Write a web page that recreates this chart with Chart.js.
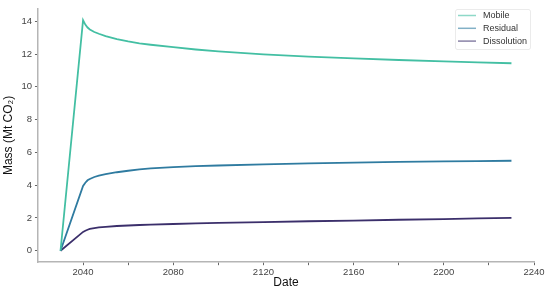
<!DOCTYPE html>
<html>
<head>
<meta charset="utf-8">
<script src="https://cdn.jsdelivr.net/npm/chart.js@4"></script>
<style>
  body { margin: 0; background: #fff; }
  #chart { display: block; }
</style>
</head>
<body>
<canvas id="chart" width="550" height="293"></canvas>
<script>
const years = [2030, 2040, 2041, 2042, 2043, 2045, 2047, 2050, 2055, 2060, 2065, 2070, 2080, 2090, 2100, 2120, 2140, 2160, 2180, 2200, 2215, 2230];
const mobile = [0, 14.07, 13.8, 13.62, 13.5, 13.35, 13.24, 13.1, 12.91, 12.77, 12.66, 12.57, 12.42, 12.28, 12.16, 11.98, 11.85, 11.74, 11.64, 11.55, 11.49, 11.44];
const residual = [0, 3.95, 4.15, 4.3, 4.38, 4.5, 4.58, 4.67, 4.79, 4.88, 4.96, 5.02, 5.1, 5.16, 5.2, 5.27, 5.33, 5.38, 5.42, 5.45, 5.47, 5.49];
const dissolution = [0, 1.15, 1.22, 1.28, 1.33, 1.38, 1.42, 1.46, 1.51, 1.54, 1.57, 1.59, 1.63, 1.67, 1.7, 1.75, 1.8, 1.84, 1.89, 1.93, 1.97, 2.0];

const seriesLabels = ['Mobile', 'Residual', 'Dissolution'];
const xTicks = [2040, 2060, 2080, 2100, 2120, 2140, 2160, 2180, 2200, 2220, 2240];
const yTicks = [0, 2, 4, 6, 8, 10, 12, 14];

const colors = ['rgb(67, 191, 163)', 'rgb(47, 123, 160)', 'rgb(59, 47, 107)'];
const legendColors = ['rgba(67, 191, 163, 0.6)', 'rgba(47, 123, 160, 0.6)', 'rgba(59, 47, 107, 0.6)'];
const fontFamily = '"Liberation Sans", Arial, sans-serif';

function toPoints(values) {
    return years.map((yr, i) => ({ x: yr, y: values[i] }));
}

const data = {
    datasets: [mobile, residual, dissolution].map((vals, i) => ({
        label: seriesLabels[i],
        data: toPoints(vals),
        borderColor: colors[i],
        backgroundColor: colors[i],
        borderWidth: 1.8,
        pointRadius: 0,
        tension: 0,
        fill: false
    }))
};

// legend box drawn inside the plot, top right
const legendBox = {
    id: 'legend_box',
    afterDraw: (chart) => {
        const ctx = chart.ctx;
        const x0 = 455, y0 = 9, w = 75, h = 40;
        ctx.save();
        ctx.fillStyle = 'rgba(255,255,255,0.8)';
        ctx.strokeStyle = 'rgba(0,0,0,0.08)';
        ctx.lineWidth = 1;
        ctx.beginPath();
        ctx.roundRect(x0 + 0.5, y0 + 0.5, w, h, 2);
        ctx.fill();
        ctx.stroke();
        ctx.font = '9px ' + fontFamily;
        ctx.textBaseline = 'middle';
        for (let i = 0; i < seriesLabels.length; i++) {
            const y = 15.5 + i * 12.8;
            ctx.strokeStyle = legendColors[i];
            ctx.lineWidth = 1.5;
            ctx.beginPath();
            ctx.moveTo(458, y);
            ctx.lineTo(476, y);
            ctx.stroke();
            ctx.fillStyle = '#333';
            ctx.fillText(seriesLabels[i], 483, y);
        }
        ctx.restore();
    }
};

const config = {
    type: 'line',
    data: data,
    options: {
        responsive: false,
        animation: false,
        plugins: {
            legend: { display: false },
            tooltip: { enabled: false }
        },
        scales: {
            x: {
                type: 'linear',
                min: 2020,
                max: 2240,
                afterBuildTicks: (axis) => {
                    axis.ticks = xTicks.map(v => ({ value: v }));
                },
                ticks: {
                    autoSkip: false,
                    maxRotation: 0,
                    padding: 1,
                    color: '#444',
                    font: { family: fontFamily, size: 9.5 },
                    callback: function (value) {
                        return value % 40 === 0 ? String(value) : '';
                    }
                },
                grid: {
                    drawOnChartArea: false,
                    drawTicks: true,
                    tickLength: 3,
                    tickColor: '#666'
                },
                border: { color: '#b5b5b5', width: 1.5 },
                title: {
                    display: true,
                    text: 'Date',
                    color: '#111',
                    font: { family: fontFamily, size: 12 },
                    padding: { top: -3, bottom: 0 }
                }
            },
            y: {
                min: -0.7,
                max: 14.77,
                afterBuildTicks: (axis) => {
                    axis.ticks = yTicks.map(v => ({ value: v }));
                },
                ticks: {
                    padding: 3,
                    color: '#444',
                    font: { family: fontFamily, size: 9.5 }
                },
                grid: {
                    drawOnChartArea: false,
                    drawTicks: true,
                    tickLength: 3,
                    tickColor: '#666'
                },
                border: { color: '#b5b5b5', width: 1.5 },
                title: {
                    display: true,
                    text: 'Mass (Mt CO₂)',
                    color: '#111',
                    font: { family: fontFamily, size: 12 },
                    padding: { top: 0, bottom: 3 }
                }
            }
        },
        layout: {
            padding: { left: 1, right: 16, top: 4, bottom: 3 }
        }
    },
    plugins: [legendBox]
};

const chart = new Chart(document.getElementById('chart'), config);
</script>
</body>
</html>
